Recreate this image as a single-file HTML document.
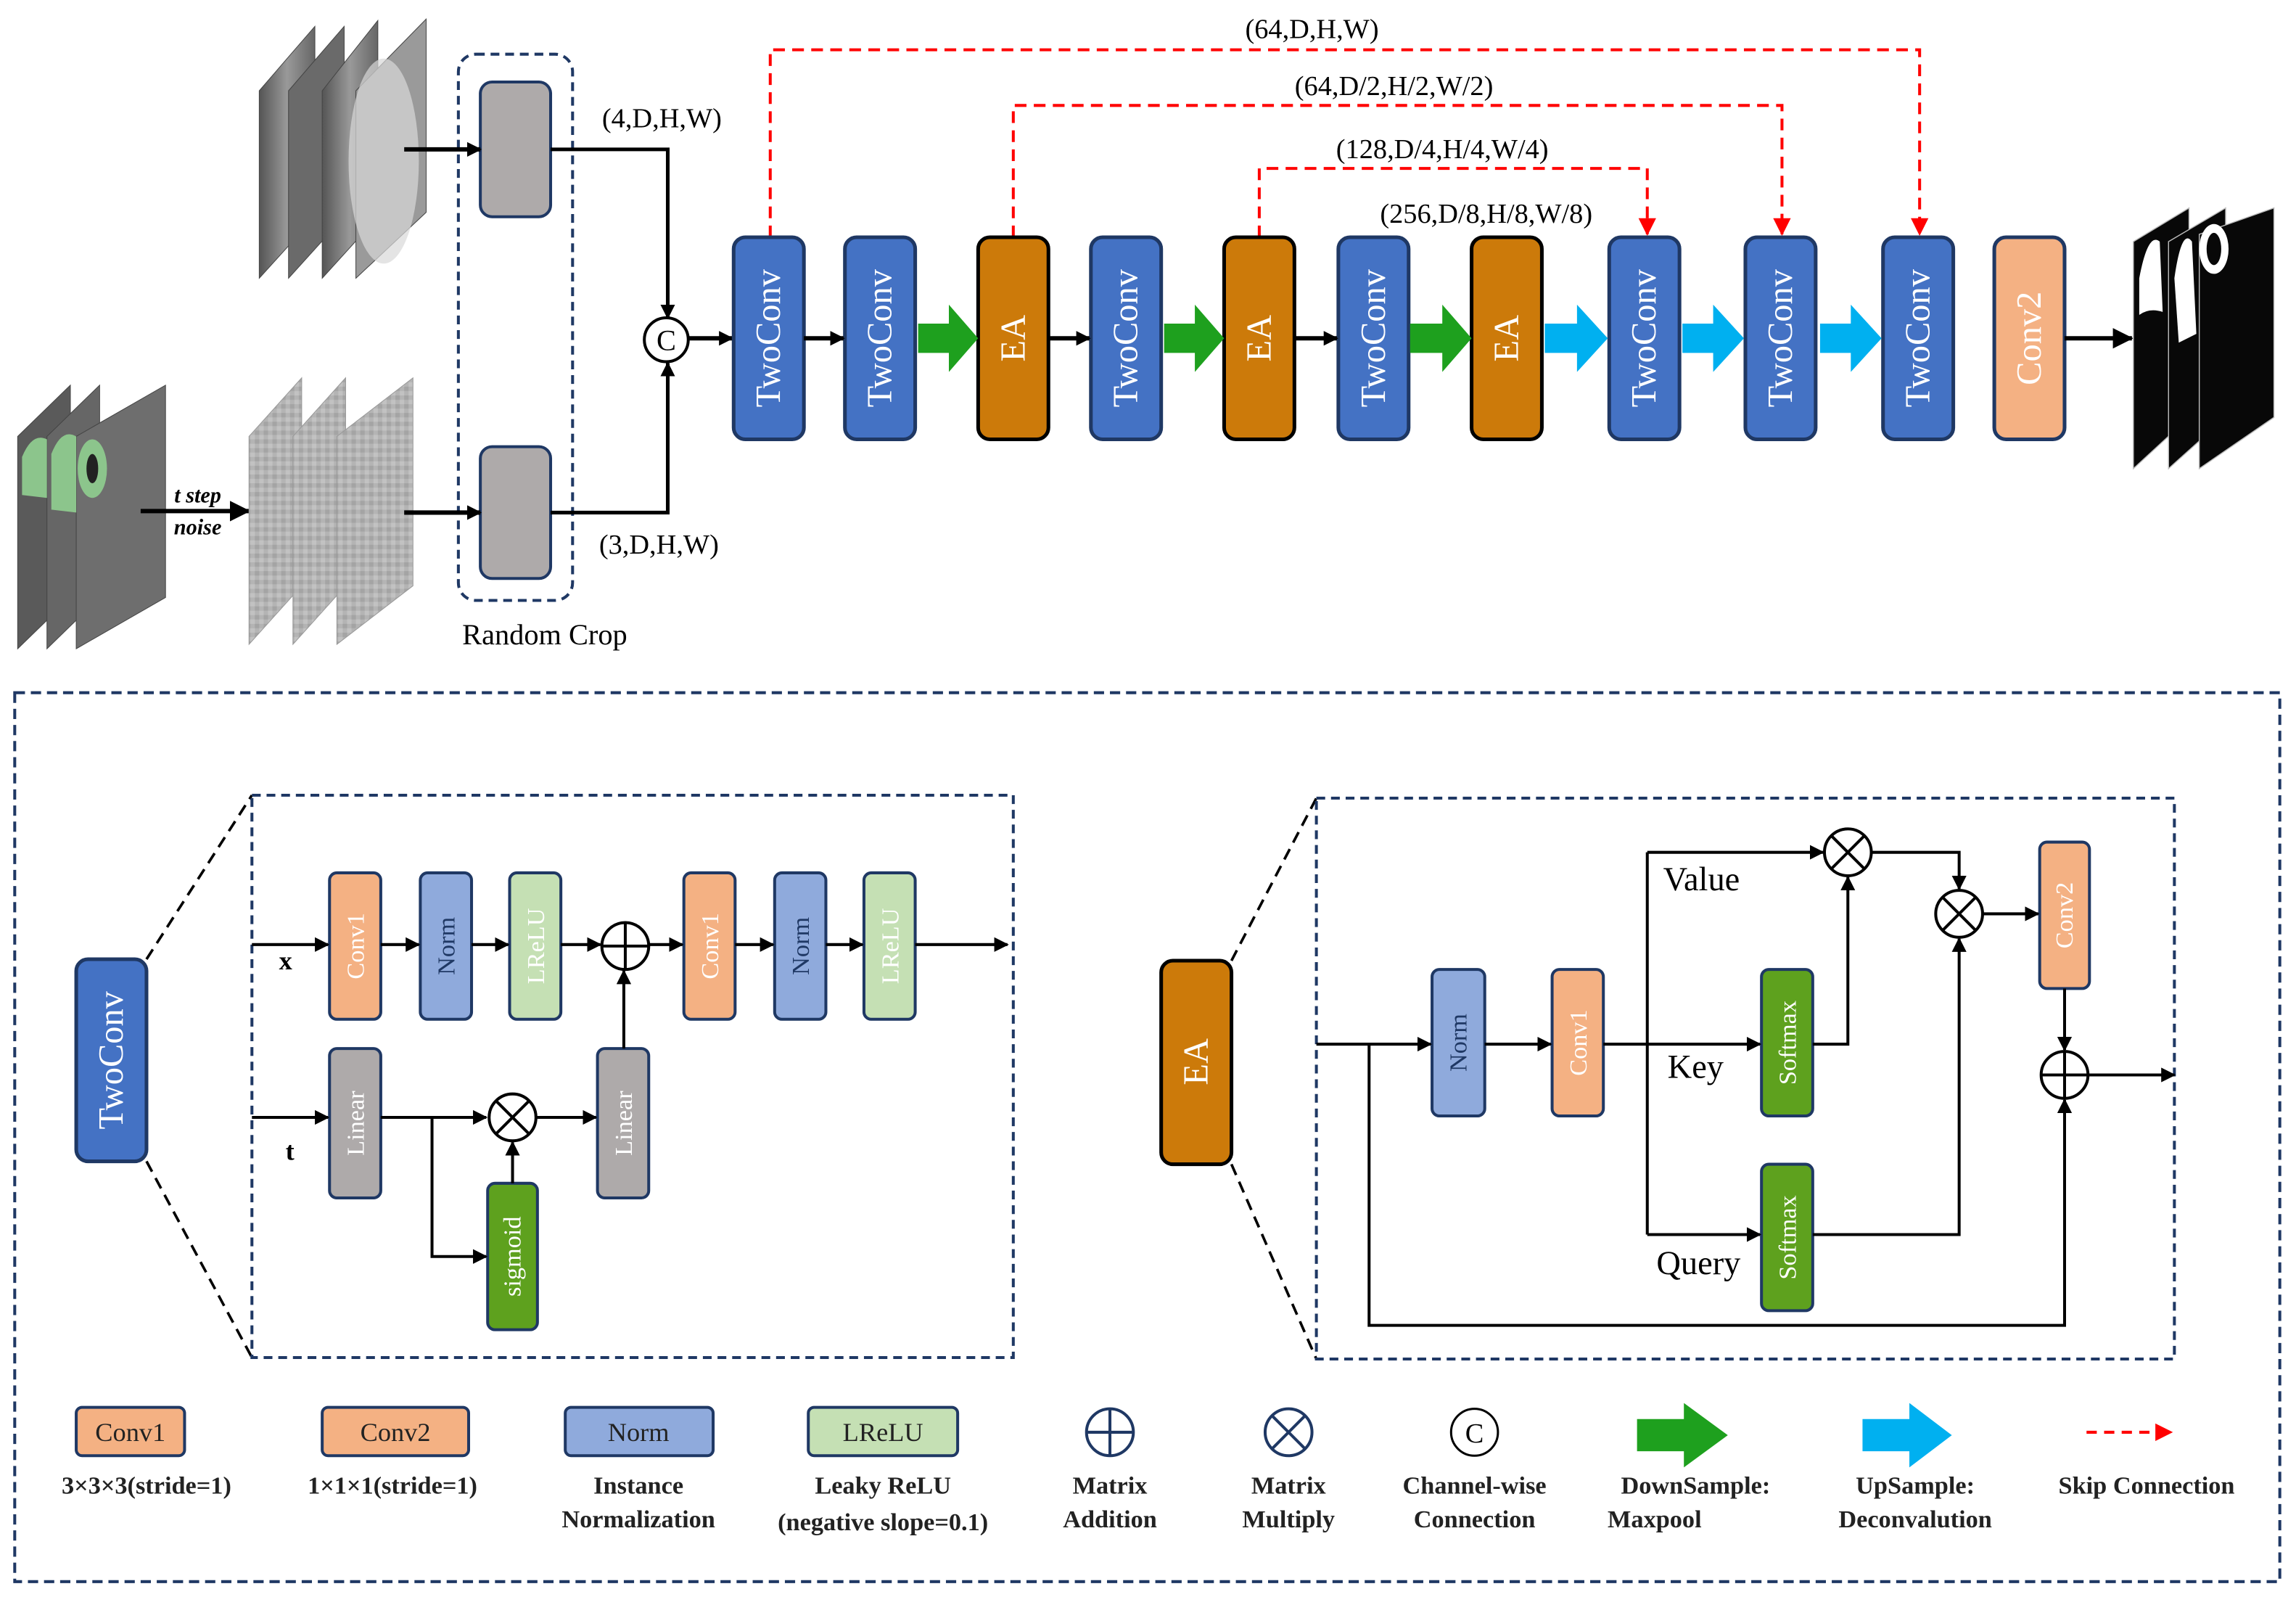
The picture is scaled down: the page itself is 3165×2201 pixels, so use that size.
<!DOCTYPE html>
<html><head><meta charset="utf-8"><style>html,body{margin:0;padding:0;background:#fff}svg{display:block}</style></head>
<body>
<svg width="3165" height="2201" viewBox="0 0 1568 1090.5" xmlns="http://www.w3.org/2000/svg" font-family="Liberation Serif, serif">
<defs>
<marker id="ah" markerWidth="10" markerHeight="10" refX="9" refY="5" orient="auto" markerUnits="userSpaceOnUse"><path d="M0,0 L10,5 L0,10 z" fill="#000"/></marker>
<marker id="ahb" markerWidth="14" markerHeight="14" refX="13" refY="7" orient="auto" markerUnits="userSpaceOnUse"><path d="M0,0 L14,7 L0,14 z" fill="#000"/></marker>
<marker id="ahr" markerWidth="12" markerHeight="12" refX="11" refY="6" orient="auto" markerUnits="userSpaceOnUse"><path d="M0,0 L12,6 L0,12 z" fill="#f00"/></marker>
<linearGradient id="mri" x1="0" x2="1"><stop offset="0" stop-color="#555"/><stop offset=".5" stop-color="#999"/><stop offset="1" stop-color="#666"/></linearGradient>
<pattern id="noise" width="6" height="6" patternUnits="userSpaceOnUse"><rect width="6" height="6" fill="#b4b4b4"/><rect width="3" height="3" fill="#a4a4a4"/><rect x="3" y="3" width="3" height="3" fill="#c2c2c2"/></pattern>
</defs>

<!-- top-left MRI stack -->
<g stroke="#444" stroke-width="0.5">
<polygon points="177,62 215,18 215,148 177,190" fill="url(#mri)"/>
<polygon points="197,62 235,18 235,148 197,190" fill="#6a6a6a"/>
<polygon points="220,62 258,14 258,148 220,190" fill="url(#mri)"/>
<polygon points="243,62 291,13 291,145 243,190" fill="#9a9a9a"/>
</g>
<ellipse cx="262" cy="110" rx="24" ry="70" fill="#d8d8d8" opacity=".7"/>

<!-- bottom-left MRI with green -->
<g stroke="#444" stroke-width="0.5">
<polygon points="12,298 48,263 48,408 12,443" fill="#5a5a5a"/>
<polygon points="32,298 68,263 68,408 32,443" fill="#666"/>
<polygon points="52,298 113,263 113,408 52,443" fill="#6e6e6e"/>
</g>
<path d="M15,312 Q22,295 32,300 L32,340 L15,338 Z" fill="#8cc58c"/>
<path d="M35,310 Q42,292 52,298 L52,350 L35,348 Z" fill="#8cc58c"/>
<ellipse cx="63" cy="320" rx="10" ry="20" fill="#8cc58c"/>
<ellipse cx="63" cy="320" rx="4" ry="10" fill="#222"/>
<line x1="96" y1="349" x2="170" y2="349" stroke="#000" stroke-width="3" marker-end="url(#ahb)"/>
<text x="135" y="343" font-size="15" font-style="italic" font-weight="bold" text-anchor="middle">t step</text>
<text x="135" y="365" font-size="15" font-style="italic" font-weight="bold" text-anchor="middle">noise</text>

<!-- noise stack -->
<g stroke="#999" stroke-width="0.5">
<polygon points="170,298 206,258 206,400 170,440" fill="url(#noise)"/>
<polygon points="200,298 236,258 236,400 200,440" fill="url(#noise)"/>
<polygon points="230,298 282,258 282,400 230,440" fill="url(#noise)"/>
</g>

<!-- random crop -->
<rect x="313" y="37" width="78" height="373" rx="12" fill="none" stroke="#1f3864" stroke-width="2" stroke-dasharray="6,4"/>
<rect x="328" y="56" width="48" height="92" rx="8" fill="#aeaaaa" stroke="#1f3864" stroke-width="2"/>
<rect x="328" y="305" width="48" height="90" rx="8" fill="#aeaaaa" stroke="#1f3864" stroke-width="2"/>
<line x1="276" y1="102" x2="328" y2="102" stroke="#000" stroke-width="3" marker-end="url(#ah)"/>
<line x1="276" y1="350" x2="328" y2="350" stroke="#000" stroke-width="3" marker-end="url(#ah)"/>
<polyline points="376,102 456,102 456,217" fill="none" stroke="#000" stroke-width="2.5" marker-end="url(#ah)"/>
<polyline points="376,350 456,350 456,248" fill="none" stroke="#000" stroke-width="2.5" marker-end="url(#ah)"/>
<circle cx="455" cy="232" r="15" fill="#fff" stroke="#000" stroke-width="2"/>
<text x="455" y="239" font-size="20" text-anchor="middle">C</text>
<text x="452" y="87" font-size="19" text-anchor="middle">(4,D,H,W)</text>
<text x="450" y="378" font-size="19" text-anchor="middle">(3,D,H,W)</text>
<text x="372" y="440" font-size="20" text-anchor="middle">Random Crop</text>
<line x1="470" y1="231" x2="500" y2="231" stroke="#000" stroke-width="3" marker-end="url(#ah)"/>

<!-- skip connections -->
<g stroke="#f00" stroke-width="2" fill="none" stroke-dasharray="8,5">
<polyline points="526,162 526,34 1311,34 1311,160" marker-end="url(#ahr)"/>
<polyline points="692,162 692,72 1217,72 1217,160" marker-end="url(#ahr)"/>
<polyline points="860,162 860,115 1125,115 1125,160" marker-end="url(#ahr)"/>
</g>
<g font-size="19" text-anchor="middle">
<text x="896" y="26">(64,D,H,W)</text>
<text x="952" y="65">(64,D/2,H/2,W/2)</text>
<text x="985" y="108">(128,D/4,H/4,W/4)</text>
<text x="1015" y="152">(256,D/8,H/8,W/8)</text>
</g>

<!-- main blocks -->
<g stroke-width="2.5">
<rect x="501" y="162" width="48" height="138" rx="8" fill="#4472c4" stroke="#1f3864"/>
<rect x="577" y="162" width="48" height="138" rx="8" fill="#4472c4" stroke="#1f3864"/>
<rect x="668" y="162" width="48" height="138" rx="8" fill="#cc7a0a" stroke="#000"/>
<rect x="745" y="162" width="48" height="138" rx="8" fill="#4472c4" stroke="#1f3864"/>
<rect x="836" y="162" width="48" height="138" rx="8" fill="#cc7a0a" stroke="#000"/>
<rect x="914" y="162" width="48" height="138" rx="8" fill="#4472c4" stroke="#1f3864"/>
<rect x="1005" y="162" width="48" height="138" rx="8" fill="#cc7a0a" stroke="#000"/>
<rect x="1099" y="162" width="48" height="138" rx="8" fill="#4472c4" stroke="#1f3864"/>
<rect x="1192" y="162" width="48" height="138" rx="8" fill="#4472c4" stroke="#1f3864"/>
<rect x="1286" y="162" width="48" height="138" rx="8" fill="#4472c4" stroke="#1f3864"/>
<rect x="1362" y="162" width="48" height="138" rx="8" fill="#f4b183" stroke="#1f3864"/>
</g>
<g fill="#fff" font-size="24" text-anchor="middle" dominant-baseline="central">
<text transform="translate(525,231) rotate(-90)">TwoConv</text>
<text transform="translate(601,231) rotate(-90)">TwoConv</text>
<text transform="translate(692,231) rotate(-90)">EA</text>
<text transform="translate(769,231) rotate(-90)">TwoConv</text>
<text transform="translate(860,231) rotate(-90)">EA</text>
<text transform="translate(938,231) rotate(-90)">TwoConv</text>
<text transform="translate(1029,231) rotate(-90)">EA</text>
<text transform="translate(1123,231) rotate(-90)">TwoConv</text>
<text transform="translate(1216,231) rotate(-90)">TwoConv</text>
<text transform="translate(1310,231) rotate(-90)">TwoConv</text>
<text transform="translate(1386,231) rotate(-90)">Conv2</text>
</g>
<g stroke="#000" stroke-width="3">
<line x1="549" y1="231" x2="576" y2="231" marker-end="url(#ah)"/>
<line x1="716" y1="231" x2="744" y2="231" marker-end="url(#ah)"/>
<line x1="884" y1="231" x2="913" y2="231" marker-end="url(#ah)"/>
<line x1="1410" y1="231" x2="1456" y2="231" marker-end="url(#ahb)"/>
</g>
<g fill="#1ea01e">
<polygon points="627,221 648,221 648,208 668,231 648,254 648,241 627,241"/>
<polygon points="795,221 816,221 816,208 836,231 816,254 816,241 795,241"/>
<polygon points="963,221 985,221 985,208 1005,231 985,254 985,241 963,241"/>
</g>
<g fill="#00b0f0">
<polygon points="1055,221 1077,221 1077,208 1098,231 1077,254 1077,241 1055,241"/>
<polygon points="1149,221 1170,221 1170,208 1191,231 1170,254 1170,241 1149,241"/>
<polygon points="1243,221 1264,221 1264,208 1285,231 1264,254 1264,241 1243,241"/>
</g>

<!-- output stack -->
<g stroke="#bbb" stroke-width="0.7">
<polygon points="1457,165 1495,142 1495,285 1457,320" fill="#080808"/>
<polygon points="1481,165 1520,142 1520,285 1481,320" fill="#080808"/>
<polygon points="1502,160 1553,142 1553,285 1502,320" fill="#080808"/>
</g>
<path d="M1461,190 Q1467,158 1475,165 L1477,213 Q1468,210 1461,215 Z" fill="#fff"/>
<path d="M1485,190 Q1490,155 1497,165 L1500,228 L1488,234 Z" fill="#fff"/>
<ellipse cx="1512" cy="170" rx="10" ry="17" fill="#fff"/>
<ellipse cx="1512" cy="170" rx="5" ry="11" fill="#080808"/>

<!-- bottom big box -->
<rect x="10" y="473" width="1547" height="607" fill="none" stroke="#1f3864" stroke-width="2" stroke-dasharray="7,4"/>

<!-- TwoConv detail -->
<rect x="52" y="655" width="48" height="138" rx="8" fill="#4472c4" stroke="#1f3864" stroke-width="2.5"/>
<text transform="translate(76,724) rotate(-90)" fill="#fff" font-size="24" text-anchor="middle" dominant-baseline="central">TwoConv</text>
<g stroke="#000" stroke-width="1.8" stroke-dasharray="8,5">
<line x1="100" y1="655" x2="172" y2="543"/>
<line x1="100" y1="793" x2="172" y2="927"/>
<line x1="841" y1="656" x2="899" y2="545"/>
<line x1="841" y1="795" x2="899" y2="928"/>
</g>
<rect x="172" y="543" width="520" height="384" fill="none" stroke="#1f3864" stroke-width="2" stroke-dasharray="6,4"/>

<g stroke="#1f3864" stroke-width="2">
<rect x="225" y="596" width="35" height="100" rx="5" fill="#f4b183"/>
<rect x="287" y="596" width="35" height="100" rx="5" fill="#8faadc"/>
<rect x="348" y="596" width="35" height="100" rx="5" fill="#c5e0b4"/>
<rect x="467" y="596" width="35" height="100" rx="5" fill="#f4b183"/>
<rect x="529" y="596" width="35" height="100" rx="5" fill="#8faadc"/>
<rect x="590" y="596" width="35" height="100" rx="5" fill="#c5e0b4"/>
<rect x="225" y="716" width="35" height="102" rx="5" fill="#aeaaaa"/>
<rect x="408" y="716" width="35" height="102" rx="5" fill="#aeaaaa"/>
<rect x="333" y="808" width="34" height="100" rx="5" fill="#5ea11e"/>
</g>
<g font-size="17" text-anchor="middle" dominant-baseline="central">
<text transform="translate(243,646) rotate(-90)" fill="#fff">Conv1</text>
<text transform="translate(305,646) rotate(-90)" fill="#1f3864">Norm</text>
<text transform="translate(366,646) rotate(-90)" fill="#fff">LReLU</text>
<text transform="translate(485,646) rotate(-90)" fill="#fff">Conv1</text>
<text transform="translate(547,646) rotate(-90)" fill="#1f3864">Norm</text>
<text transform="translate(608,646) rotate(-90)" fill="#fff">LReLU</text>
<text transform="translate(243,767) rotate(-90)" fill="#fff">Linear</text>
<text transform="translate(426,767) rotate(-90)" fill="#fff">Linear</text>
<text transform="translate(350,858) rotate(-90)" fill="#fff">sigmoid</text>
</g>
<g stroke="#000" stroke-width="2" fill="none">
<line x1="172" y1="645" x2="224" y2="645" marker-end="url(#ah)"/>
<line x1="260" y1="645" x2="286" y2="645" marker-end="url(#ah)"/>
<line x1="322" y1="645" x2="347" y2="645" marker-end="url(#ah)"/>
<line x1="383" y1="645" x2="410" y2="645" marker-end="url(#ah)"/>
<line x1="443" y1="645" x2="466" y2="645" marker-end="url(#ah)"/>
<line x1="502" y1="645" x2="528" y2="645" marker-end="url(#ah)"/>
<line x1="564" y1="645" x2="589" y2="645" marker-end="url(#ah)"/>
<line x1="625" y1="645" x2="688" y2="645" marker-end="url(#ah)"/>
<line x1="172" y1="763" x2="224" y2="763" marker-end="url(#ah)"/>
<line x1="260" y1="763" x2="332" y2="763" marker-end="url(#ah)"/>
<polyline points="295,763 295,858 332,858" marker-end="url(#ah)"/>
<line x1="350" y1="808" x2="350" y2="780" marker-end="url(#ah)"/>
<line x1="366" y1="763" x2="407" y2="763" marker-end="url(#ah)"/>
<line x1="426" y1="716" x2="426" y2="663" marker-end="url(#ah)"/>
<circle cx="427" cy="646" r="16" fill="#fff"/>
<line x1="411" y1="646" x2="443" y2="646"/><line x1="427" y1="630" x2="427" y2="662"/>
<circle cx="350" cy="763" r="16" fill="#fff"/>
<line x1="339" y1="752" x2="361" y2="774"/><line x1="361" y1="752" x2="339" y2="774"/>
</g>
<text x="195" y="662" font-size="18" font-weight="bold" text-anchor="middle">x</text>
<text x="198" y="792" font-size="18" font-weight="bold" text-anchor="middle">t</text>

<!-- EA detail -->
<rect x="793" y="656" width="48" height="139" rx="8" fill="#cc7a0a" stroke="#000" stroke-width="2.5"/>
<text transform="translate(817,725) rotate(-90)" fill="#fff" font-size="24" text-anchor="middle" dominant-baseline="central">EA</text>
<rect x="899" y="545" width="586" height="383" fill="none" stroke="#1f3864" stroke-width="2" stroke-dasharray="6,4"/>
<g stroke="#1f3864" stroke-width="2">
<rect x="978" y="662" width="36" height="100" rx="5" fill="#8faadc"/>
<rect x="1060" y="662" width="35" height="100" rx="5" fill="#f4b183"/>
<rect x="1203" y="662" width="35" height="100" rx="5" fill="#5ea11e"/>
<rect x="1203" y="795" width="35" height="100" rx="5" fill="#5ea11e"/>
<rect x="1393" y="575" width="34" height="100" rx="5" fill="#f4b183"/>
</g>
<g font-size="17" text-anchor="middle" dominant-baseline="central">
<text transform="translate(996,712) rotate(-90)" fill="#1f3864">Norm</text>
<text transform="translate(1078,712) rotate(-90)" fill="#fff">Conv1</text>
<text transform="translate(1221,712) rotate(-90)" fill="#fff">Softmax</text>
<text transform="translate(1221,845) rotate(-90)" fill="#fff">Softmax</text>
<text transform="translate(1410,625) rotate(-90)" fill="#fff">Conv2</text>
</g>
<g stroke="#000" stroke-width="2" fill="none">
<line x1="899" y1="713" x2="977" y2="713" marker-end="url(#ah)"/>
<line x1="1014" y1="713" x2="1059" y2="713" marker-end="url(#ah)"/>
<line x1="1095" y1="713" x2="1202" y2="713" marker-end="url(#ah)"/>
<line x1="1125" y1="582" x2="1125" y2="843"/>
<line x1="1125" y1="582" x2="1245" y2="582" marker-end="url(#ah)"/>
<line x1="1125" y1="843" x2="1202" y2="843" marker-end="url(#ah)"/>
<polyline points="1238,713 1262,713 1262,599" marker-end="url(#ah)"/>
<polyline points="1278,582 1338,582 1338,607" marker-end="url(#ah)"/>
<polyline points="1238,843 1338,843 1338,641" marker-end="url(#ah)"/>
<line x1="1354" y1="624" x2="1392" y2="624" marker-end="url(#ah)"/>
<line x1="1410" y1="675" x2="1410" y2="717" marker-end="url(#ah)"/>
<polyline points="935,713 935,905 1410,905 1410,751" marker-end="url(#ah)"/>
<line x1="1426" y1="734" x2="1485" y2="734" marker-end="url(#ah)"/>
<circle cx="1262" cy="582" r="16" fill="#fff"/>
<line x1="1251" y1="571" x2="1273" y2="593"/><line x1="1273" y1="571" x2="1251" y2="593"/>
<circle cx="1338" cy="624" r="16" fill="#fff"/>
<line x1="1327" y1="613" x2="1349" y2="635"/><line x1="1349" y1="613" x2="1327" y2="635"/>
<circle cx="1410" cy="734" r="16" fill="#fff"/>
<line x1="1394" y1="734" x2="1426" y2="734"/><line x1="1410" y1="718" x2="1410" y2="750"/>
</g>
<g font-size="23" text-anchor="middle">
<text x="1162" y="608">Value</text>
<text x="1158" y="736">Key</text>
<text x="1160" y="870">Query</text>
</g>

<!-- legend -->
<g stroke="#1f3864" stroke-width="2">
<rect x="52" y="961" width="74" height="33" rx="4" fill="#f4b183"/>
<rect x="220" y="961" width="100" height="33" rx="4" fill="#f4b183"/>
<rect x="386" y="961" width="101" height="33" rx="4" fill="#8faadc"/>
<rect x="552" y="961" width="102" height="33" rx="4" fill="#c5e0b4"/>
</g>
<g font-size="18" text-anchor="middle">
<text x="89" y="984" fill="#222">Conv1</text>
<text x="270" y="984" fill="#222">Conv2</text>
<text x="436" y="984" fill="#222">Norm</text>
<text x="603" y="984" fill="#222">LReLU</text>
</g>
<g stroke="#1f3864" stroke-width="2" fill="none">
<circle cx="758" cy="978" r="16"/><line x1="742" y1="978" x2="774" y2="978"/><line x1="758" y1="962" x2="758" y2="994"/>
<circle cx="880" cy="978" r="16"/><line x1="869" y1="967" x2="891" y2="989"/><line x1="891" y1="967" x2="869" y2="989"/>
</g>
<circle cx="1007" cy="978" r="16" fill="#fff" stroke="#000" stroke-width="1.5"/>
<text x="1007" y="985" font-size="19" text-anchor="middle">C</text>
<polygon points="1118,969 1150,969 1150,958 1180,980 1150,1002 1150,991 1118,991" fill="#1ea01e"/>
<polygon points="1272,969 1304,969 1304,958 1333,980 1304,1002 1304,991 1272,991" fill="#00b0f0"/>
<line x1="1425" y1="978" x2="1483" y2="978" stroke="#f00" stroke-width="2" stroke-dasharray="7,5" marker-end="url(#ahr)"/>
<g font-size="17" font-weight="bold" text-anchor="middle" fill="#222">
<text x="100" y="1020">3×3×3(stride=1)</text>
<text x="268" y="1020">1×1×1(stride=1)</text>
<text x="436" y="1020">Instance</text><text x="436" y="1043">Normalization</text>
<text x="603" y="1020">Leaky ReLU</text><text x="603" y="1045">(negative slope=0.1)</text>
<text x="758" y="1020">Matrix</text><text x="758" y="1043">Addition</text>
<text x="880" y="1020">Matrix</text><text x="880" y="1043">Multiply</text>
<text x="1007" y="1020">Channel-wise</text><text x="1007" y="1043">Connection</text>
<text x="1158" y="1020">DownSample:</text><text x="1130" y="1043">Maxpool</text>
<text x="1308" y="1020">UpSample:</text><text x="1308" y="1043">Deconvalution</text>
<text x="1466" y="1020">Skip Connection</text>
</g>
</svg>
</body></html>
